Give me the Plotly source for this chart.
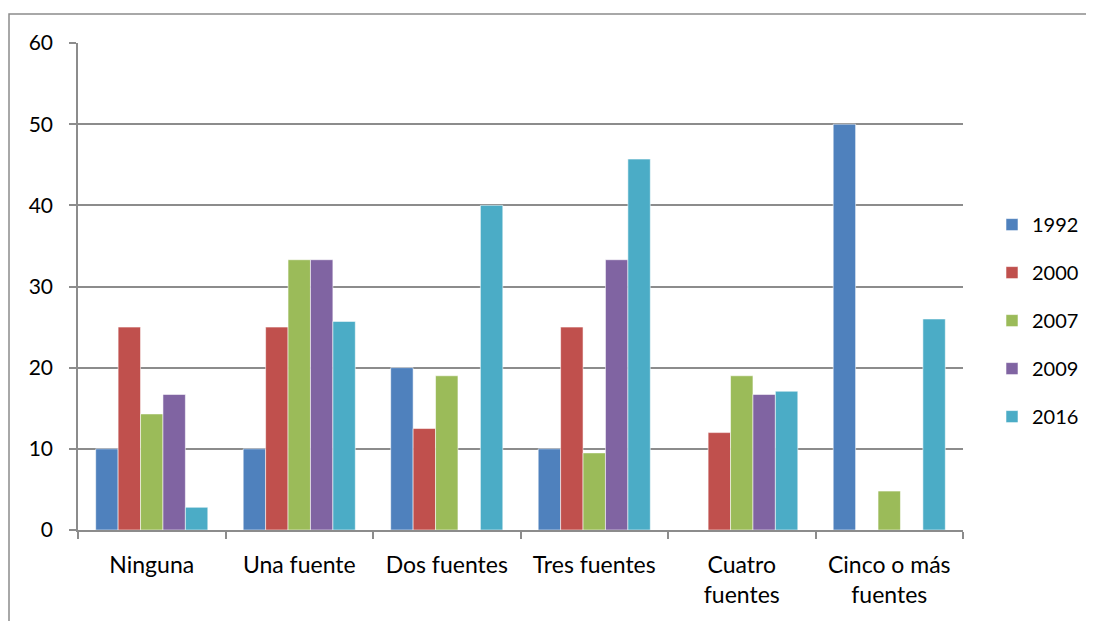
import plotly.graph_objects as go

categories = ["Ninguna", "Una fuente", "Dos fuentes", "Tres fuentes", "Cuatro<br>fuentes", "Cinco o más<br>fuentes"]
series_names = ["1992", "2000", "2007", "2009", "2016"]
v1992 = [10, 10, 20, 10, 0, 50]
v2000 = [25, 25, 12.5, 25, 12, 0]
v2007 = [14.3, 33.3, 19, 9.5, 19, 4.8]
v2009 = [16.7, 33.3, 0, 33.3, 16.7, 0]
v2016 = [2.8, 25.7, 40, 45.7, 17.1, 26]
values = [v1992, v2000, v2007, v2009, v2016]
colors = ["#4F81BD", "#C0504D", "#9BBB59", "#8064A2", "#4BACC6"]
y_ticks = [0, 10, 20, 30, 40, 50, 60]

FONT = "Lato, Calibri, Carlito, sans-serif"

# screen geometry of plot area (page has 8px body offset)
PL, PR, PT, PB = 78, 963, 43, 530
PW, PH = PR - PL, PB - PT

fig = go.Figure()
for name, vals, col in zip(series_names, values, colors):
    fig.add_trace(go.Bar(
        x=categories, y=vals, name=name, legendgroup=name,
        marker=dict(color=col, line=dict(color="rgba(255,255,255,0.55)", width=1)),
    ))

grid = "#8c8c8c"
fig.update_layout(
    width=1094, height=621,
    margin=dict(l=PL - 8, r=1094 - (PR - 8), t=PT - 8, b=621 - (PB - 8)),
    paper_bgcolor="white", plot_bgcolor="white",
    barmode="group", bargap=0.24, bargroupgap=0,
    font=dict(family=FONT, size=20, color="black"),
    legend=dict(x=(992 - PL) / PW, y=0.43, xanchor="left", yanchor="middle",
                tracegroupgap=19, font=dict(size=20, family=FONT),
                itemwidth=30),
    xaxis=dict(showgrid=False, showline=True, linecolor=grid, linewidth=1.5,
               ticks="outside", tickson="boundaries", ticklen=7, tickcolor=grid,
               tickwidth=1.5, ticklabelstandoff=14,
               tickfont=dict(size=23, family=FONT)),
    yaxis=dict(range=[0, 60], tickvals=y_ticks, showgrid=True, gridcolor=grid,
               gridwidth=1.5, showline=True, linecolor=grid, linewidth=1.5,
               ticks="outside", ticklen=7, tickcolor=grid, tickwidth=1.5,
               ticklabelstandoff=12, zeroline=False,
               tickfont=dict(size=21, family=FONT)),
    shapes=[dict(type="rect", xref="paper", yref="paper",
                 x0=(9 - PL) / PW, x1=(1120 - PL) / PW,
                 y0=(PB - 650) / PH, y1=(PB - 14) / PH,
                 line=dict(color="#8c8c8c", width=1.5), layer="below")],
)

fig.write_html("out.html")
